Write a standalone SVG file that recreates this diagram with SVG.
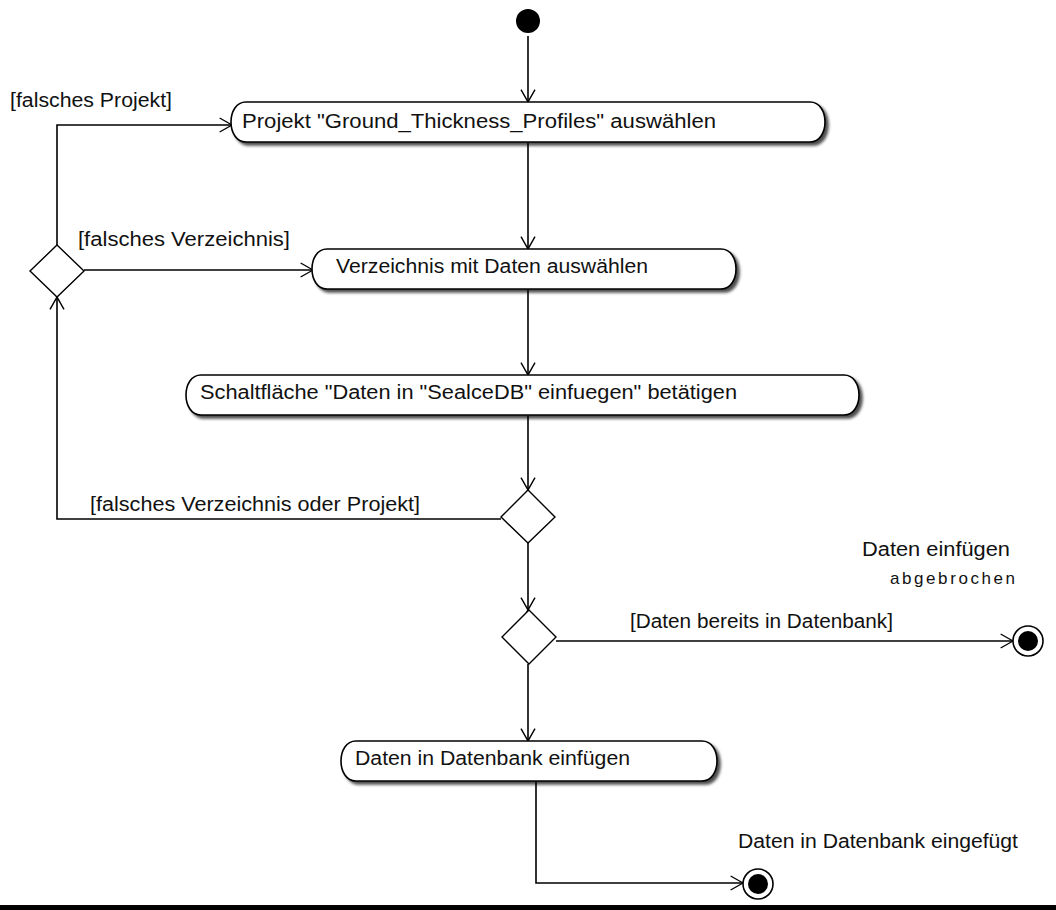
<svg xmlns="http://www.w3.org/2000/svg" width="1056" height="910" viewBox="0 0 1056 910">
  <style>
    .bg { fill: #ffffff; }
    .lbl { font-family: "Liberation Sans", Arial, sans-serif; font-size: 20px; fill: #111; }
    .small { font-size: 17px; }
    .edge { fill: none; stroke: #000; stroke-width: 1.6; marker-end: url(#open); }
    .act { fill: #fff; stroke: #000; stroke-width: 1.6; filter: url(#shadow); }
    .dec { fill: #fff; stroke: #000; stroke-width: 1.4; }
  </style>
  <defs>
    <!-- open arrowhead whose two strokes cross slightly at the tip -->
    <marker id="open" markerUnits="userSpaceOnUse" markerWidth="18" markerHeight="18" refX="12.35" refY="7" orient="auto" overflow="visible">
      <path d="M0,0 L15,8.5 M0,14 L15,5.5" fill="none" stroke="#000" stroke-width="1.4"/>
    </marker>
    <filter id="shadow" x="-5%" y="-30%" width="115%" height="170%">
      <feGaussianBlur in="SourceAlpha" stdDeviation="1.5" result="b"/>
      <feOffset in="b" dx="3" dy="3" result="o"/>
      <feComponentTransfer in="o" result="s"><feFuncA type="linear" slope="0.7"/></feComponentTransfer>
      <feMerge><feMergeNode in="s"/><feMergeNode in="SourceGraphic"/></feMerge>
    </filter>
  </defs>

  <rect class="bg" x="0" y="0" width="1056" height="910"/>

  <!-- connectors -->
  <g id="connectors">
    <path class="edge" d="M528 36 V102"/>
    <path class="edge" d="M528 143 V249"/>
    <path class="edge" d="M528 290 V375"/>
    <path class="edge" d="M528 416 V490"/>
    <path class="edge" d="M501 519 H57 V297"/>
    <path class="edge" d="M57 245 V125 H232"/>
    <path class="edge" d="M84 270 H313"/>
    <path class="edge" d="M528 543 V610"/>
    <path class="edge" d="M556 641 H1013"/>
    <path class="edge" d="M528 664 V741"/>
    <path class="edge" d="M536 782 V883 H743"/>
    <text class="lbl" x="10" y="107" textLength="162" lengthAdjust="spacingAndGlyphs">[falsches Projekt]</text>
    <text class="lbl" x="78" y="246" textLength="212" lengthAdjust="spacingAndGlyphs">[falsches Verzeichnis]</text>
    <text class="lbl" x="90" y="511" textLength="330" lengthAdjust="spacingAndGlyphs">[falsches Verzeichnis oder Projekt]</text>
    <text class="lbl" x="630" y="628" textLength="263" lengthAdjust="spacingAndGlyphs">[Daten bereits in Datenbank]</text>
  </g>

  <!-- start -->
  <g id="start">
    <circle cx="528" cy="21" r="12" fill="#000"/>
  </g>

  <!-- actions: pill shapes with bulging ends -->
  <g id="act-projekt">
    <path class="act" d="M246 102 H810 C830 102 830 142 810 142 H246 C226 142 226 102 246 102 Z"/>
    <text class="lbl" x="242" y="128" textLength="474" lengthAdjust="spacingAndGlyphs">Projekt "Ground_Thickness_Profiles" auswählen</text>
  </g>
  <g id="act-verzeichnis">
    <path class="act" d="M327 249 H721 C741 249 741 289 721 289 H327 C307 289 307 249 327 249 Z"/>
    <text class="lbl" x="336" y="273" textLength="312" lengthAdjust="spacingAndGlyphs">Verzeichnis mit Daten auswählen</text>
  </g>
  <g id="act-schaltflaeche">
    <path class="act" d="M201 375 H844 C864 375 864 415 844 415 H201 C181 415 181 375 201 375 Z"/>
    <text class="lbl" x="200" y="399" textLength="537" lengthAdjust="spacingAndGlyphs">Schaltfläche "Daten in "SealceDB" einfuegen" betätigen</text>
  </g>
  <g id="act-einfuegen">
    <path class="act" d="M356 741 H702 C722 741 722 781 702 781 H356 C336 781 336 741 356 741 Z"/>
    <text class="lbl" x="355" y="765" textLength="275" lengthAdjust="spacingAndGlyphs">Daten in Datenbank einfügen</text>
  </g>

  <!-- decisions -->
  <g id="dec-fehler">
    <polygon class="dec" points="57,245 84,271 57,297 30,271"/>
  </g>
  <g id="dec-pruefung">
    <polygon class="dec" points="528,490 555,517 528,543 501,517"/>
  </g>
  <g id="dec-vorhanden">
    <polygon class="dec" points="529,610 556,637 529,664 502,637"/>
  </g>

  <!-- final states -->
  <g id="end-abgebrochen">
    <circle cx="1028" cy="641" r="15" fill="#fff" stroke="#000" stroke-width="1.6"/>
    <circle cx="1028" cy="641" r="10" fill="#000"/>
    <text class="lbl" x="862" y="556" textLength="148" lengthAdjust="spacingAndGlyphs">Daten einfügen</text>
    <text class="lbl small" x="890" y="584" textLength="125" lengthAdjust="spacing">abgebrochen</text>
  </g>
  <g id="end-eingefuegt">
    <circle cx="758" cy="884" r="15" fill="#fff" stroke="#000" stroke-width="1.6"/>
    <circle cx="758" cy="884" r="10" fill="#000"/>
    <text class="lbl" x="738" y="848" textLength="280" lengthAdjust="spacingAndGlyphs">Daten in Datenbank eingefügt</text>
  </g>

  <!-- bottom frame edge -->
  <rect x="0" y="905" width="1056" height="5" fill="#000"/>
</svg>
